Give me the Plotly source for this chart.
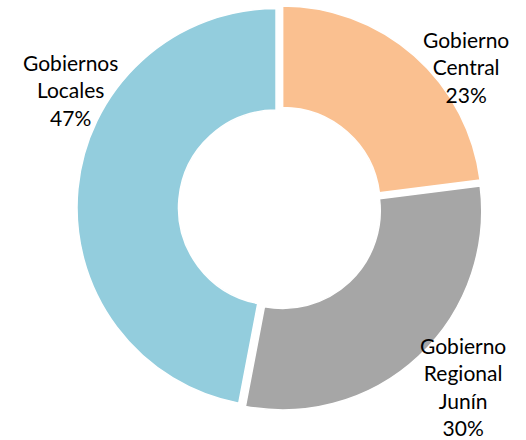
import plotly.graph_objects as go

categories = ["Gobierno Central", "Gobierno Regional Junín", "Gobiernos Locales"]
values = [23, 30, 47]
label_texts = ["Gobierno<br>Central<br>23%", "Gobierno<br>Regional<br>Junín<br>30%", "Gobiernos<br>Locales<br>47%"]
colors = ["#FAC090", "#A6A6A6", "#93CDDD"]

W, H = 526, 440
cx, cy, R = 280, 208, 203
fig = go.Figure(go.Pie(
    labels=categories, values=values, sort=False, direction="clockwise", rotation=0,
    hole=0.49, pull=[0.02, 0.02, 0.02],
    marker=dict(colors=colors, line=dict(color="white", width=1.5)),
    textinfo="none", hoverinfo="label+percent", showlegend=False,
    domain=dict(x=[(cx - R) / W, (cx + R) / W], y=[1 - (cy + R) / H, 1 - (cy - R) / H]),
))

label_pos = [(466, 67), (463, 386), (70, 90)]
for t, (x, y) in zip(label_texts, label_pos):
    fig.add_annotation(text=t, x=x / W, y=1 - y / H, xref="paper", yref="paper",
                       showarrow=False, xanchor="center", yanchor="middle",
                       font=dict(family="Lato", size=21, color="#000000"))

fig.update_layout(width=W, height=H, margin=dict(l=0, r=0, t=0, b=0),
                  paper_bgcolor="white", plot_bgcolor="white")
fig.write_html("out.html", config={"displayModeBar": False},
               post_script="document.body.style.margin='0';")
